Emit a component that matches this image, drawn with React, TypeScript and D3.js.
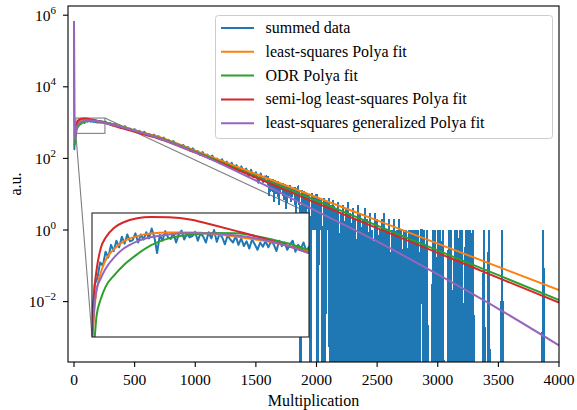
import { useEffect, useRef } from 'react';
import * as d3 from 'd3';

const W = 577;
const H = 410;
const margin = { top: 6, right: 18, bottom: 48, left: 68 };

// axis limits and ticks
const xLimits = [-49.5, 4000];
const yLimits = [10 ** -3.687, 10 ** 6.257];
const xTicks = [0, 500, 1000, 1500, 2000, 2500, 3000, 3500, 4000];
const yTickExponents = [-2, 0, 2, 4, 6];

// zoomed region shown in the inset
const insetXLimits = [15, 255];
const insetYLimits = [500, 1340];

// summed data (counts), three stretches with their own bin spacing
const lowStart = 0, lowStep = 3;
const countsLow = [
    680000, 180, 390, 520, 610, 590, 760, 800, 905, 880,
    985, 940, 1040, 990, 1075, 1020, 1110, 1050, 1130, 1070,
    1080, 1140, 1060, 1130, 1085, 1150, 1095, 1185, 1105, 975,
    1125, 1075, 1160, 1105, 1090, 1145, 1060, 1130, 1165, 1085,
    1135, 1105, 1115, 1155, 1075, 1140, 1110, 1060, 1150, 1095,
    1170, 1065, 1135, 1105, 1045, 1120, 1085, 1060, 1115, 1040,
    1095, 1030, 1070, 1010, 1085, 1045, 1000, 1060, 1025, 1070,
    1020, 1070, 1045, 990, 1075, 1030, 1060, 1000, 1045, 1075,
    985, 1040, 1010, 1060, 990, 1025,
];
const midStart = 260, midStep = 20;
const countsMid = [
    1060, 922, 962, 837, 920, 805, 824, 713, 794, 665,
    683, 602, 653, 562, 588, 492, 553, 466, 484, 419,
    462, 398, 414, 341, 381, 313, 330, 272, 304, 249,
    254, 210, 237, 195, 207, 162, 190, 152, 161, 124,
    150, 118, 128, 96, 120, 91, 99, 74, 95, 70,
    81, 56, 76, 54, 65, 42, 60, 41, 52, 31,
    48, 30, 41, 21, 38, 22, 33,
];
const tailStart = 1600, tailStep = 10;
const countsTail = [
    30, 9, 27, 12, 26, 6, 25, 10, 24, 5,
    21, 13, 20, 7, 19, 4, 17, 9, 18, 6,
    15, 11, 16, 3, 14, 16, 5, 0, 13, 3,
    12, 2, 11, 4, 10, 0, 11, 1, 9, 1,
    10, 0, 8, 1, 7, 0, 8, 0, 7, 1,
    8, 0, 5, 0, 7, 0, 4, 0, 6, 0,
    3, 0, 5, 0, 4, 0, 6, 0, 3, 0,
    4, 0, 2, 0, 5, 0, 3, 0, 2, 0,
    4, 0, 2, 0, 3, 0, 1, 0, 3, 0,
    2, 0, 1, 0, 2, 0, 3, 0, 1, 0,
    2, 0, 1, 0, 2, 0, 1, 0, 2, 0,
    1, 0, 1, 0, 1, 0, 1, 0, 1, 0,
    1, 0, 1, 0, 1, 0, 1, 1, 0, 1,
    0, 1, 0, 0, 0, 0, 1, 0, 1, 0,
    1, 0, 1, 0, 1, 0, 0, 0, 0, 1,
    0, 1, 0, 0, 1, 0, 1, 0, 1, 0,
    1, 0, 0, 1, 0, 1, 0, 1, 0, 1,
    0, 0, 0, 0, 0, 0, 0, 0, 1, 0,
    0, 0, 1, 0, 0, 0, 0, 0, 0, 0,
    0, 0, 0, 1, 0, 0, 0, 0, 0, 0,
    0, 0, 0, 0, 0, 0, 0, 0, 0, 0,
    0, 0, 0, 0, 0, 0, 0, 0, 0, 0,
    0, 0, 0, 0, 0, 0, 0, 1, 0, 0,
    0, 0, 0, 0, 0, 0, 0, 0, 0, 0,
    0,
];

// fitted curves, read at these multiplications
const fitX = [5, 15, 18, 20, 25, 30, 40, 50, 65, 80, 100, 125, 150, 175, 200, 230, 255, 300, 400, 500, 600, 700, 1000, 1500, 2000, 2500, 3000, 3500, 4000];
const lsqFit = [350, 470, 640, 720, 840, 920, 1010, 1070, 1115, 1138, 1148, 1148, 1135, 1110, 1080, 1035, 988, 923, 767, 610, 490, 398, 163, 36.6, 8.22, 1.85, 0.416, 0.0936, 0.0211];
const odrFit = [230, 420, 500, 590, 680, 745, 820, 885, 965, 1035, 1095, 1128, 1143, 1140, 1110, 1055, 999, 933, 760, 596, 473, 380, 155, 31.6, 6.61, 1.33, 0.269, 0.055, 0.0111];
const semiLogFit = [420, 520, 750, 850, 1020, 1100, 1195, 1245, 1285, 1298, 1295, 1270, 1215, 1160, 1105, 1035, 975, 871, 692, 550, 442, 355, 145, 29.2, 5.62, 1.13, 0.229, 0.0462, 0.00933];
const genX = [0, ...fitX];
const genFit = [680000, 330, 500, 660, 730, 800, 860, 945, 1010, 1070, 1105, 1130, 1143, 1138, 1120, 1090, 1035, 975, 902, 741, 589, 468, 367, 148, 24, 3.39, 0.479, 0.0575, 0.0063, 0.0006];

const seriesNames = ['summed data', 'least-squares Polya fit', 'ODR Polya fit', 'semi-log least-squares Polya fit', 'least-squares generalized Polya fit'];
const colors = ['#1f77b4', '#ff7f0e', '#2ca02c', '#d62728', '#9467bd'];

type Pt = { x: number; v: number };

const FONT = "'Liberation Serif', 'Times New Roman', serif";

export default function App() {
    const ref = useRef<SVGSVGElement | null>(null);

    useEffect(() => {
        if (!ref.current) return;
        const svg = d3.select(ref.current);
        svg.selectAll('*').remove();

        const left = margin.left, right = W - margin.right;
        const top = margin.top, bottom = H - margin.bottom;

        const x = d3.scaleLinear().domain(xLimits).range([left, right]);
        const y = d3.scaleLog().domain(yLimits).range([bottom, top]);

        const head: Pt[] = [
            ...countsLow.map((v, i) => ({ x: lowStart + i * lowStep, v })),
            ...countsMid.map((v, i) => ({ x: midStart + i * midStep, v })),
        ];
        // the dense, zero-ridden tail is drawn on its own, starting from the last point of the head
        const tail: Pt[] = [
            head[head.length - 1],
            ...countsTail.map((v, i) => ({ x: tailStart + i * tailStep, v })),
        ];
        const fits: Pt[][] = [
            fitX.map((fx, i) => ({ x: fx, v: lsqFit[i] })),
            fitX.map((fx, i) => ({ x: fx, v: odrFit[i] })),
            fitX.map((fx, i) => ({ x: fx, v: semiLogFit[i] })),
            genX.map((fx, i) => ({ x: fx, v: genFit[i] })),
        ];

        const defs = svg.append('defs');
        defs.append('clipPath').attr('id', 'mainClip')
            .append('rect').attr('x', left).attr('y', top).attr('width', right - left).attr('height', bottom - top);

        // inset placement
        const ix0 = 92, ix1 = 309, iy0 = 213, iy1 = 337;
        defs.append('clipPath').attr('id', 'insetClip')
            .append('rect').attr('x', ix0).attr('y', iy0).attr('width', ix1 - ix0).attr('height', iy1 - iy0);

        svg.append('rect').attr('width', W).attr('height', H).attr('fill', '#fff');

        // zoom marker and connectors
        const rx0 = x(insetXLimits[0]), rx1 = x(insetXLimits[1]);
        const ry0 = y(insetYLimits[1]), ry1 = y(insetYLimits[0]);
        const mark = svg.append('g').attr('clip-path', 'url(#mainClip)').attr('stroke', '#7f7f7f').attr('stroke-width', 1.1).attr('fill', 'none');
        mark.append('rect').attr('x', rx0).attr('y', ry0).attr('width', rx1 - rx0).attr('height', ry1 - ry0);
        mark.append('line').attr('x1', rx0).attr('y1', ry1).attr('x2', ix0).attr('y2', iy1);
        mark.append('line').attr('x1', rx1).attr('y1', ry0).attr('x2', ix1).attr('y2', iy0);

        const drawSeries = (g: d3.Selection<SVGGElement, unknown, null, undefined>, sx: d3.ScaleLinear<number, number>, sy: d3.ScaleLogarithmic<number, number>, low: number) => {
            const dataLine = d3.line<Pt>()
                .x(d => sx(d.x))
                .y(d => (d.v > 0 ? sy(d.v) : low + 40));
            g.append('path').datum(head).attr('d', dataLine)
                .attr('fill', 'none').attr('stroke', colors[0]).attr('stroke-width', 2).attr('stroke-linejoin', 'round');
            g.append('path').datum(tail).attr('d', dataLine)
                .attr('fill', 'none').attr('stroke', colors[0]).attr('stroke-width', 2).attr('shape-rendering', 'crispEdges');
            const fitLine = d3.line<Pt>().x(d => sx(d.x)).y(d => sy(d.v)).curve(d3.curveMonotoneX);
            fits.forEach((f, i) => {
                g.append('path').datum(f).attr('d', fitLine)
                    .attr('fill', 'none').attr('stroke', colors[i + 1]).attr('stroke-width', 2);
            });
        };

        const plot = svg.append('g').attr('clip-path', 'url(#mainClip)');
        drawSeries(plot, x, y, bottom);

        // spines
        svg.append('rect').attr('x', left).attr('y', top).attr('width', right - left).attr('height', bottom - top)
            .attr('fill', 'none').attr('stroke', '#000').attr('stroke-width', 1.1);

        // x ticks
        const xa = svg.append('g').attr('font-family', FONT).attr('font-size', 15.5).attr('text-anchor', 'middle');
        xTicks.forEach(t => {
            xa.append('line').attr('x1', x(t)).attr('x2', x(t)).attr('y1', bottom).attr('y2', bottom + 5).attr('stroke', '#000').attr('stroke-width', 1.1);
            xa.append('text').attr('x', x(t)).attr('y', bottom + 22.5).text(String(t));
        });

        // y ticks
        const ya = svg.append('g').attr('font-family', FONT).attr('font-size', 15.5).attr('text-anchor', 'end');
        yTickExponents.forEach(e => {
            const ty = y(10 ** e);
            ya.append('line').attr('x1', left - 5).attr('x2', left).attr('y1', ty).attr('y2', ty).attr('stroke', '#000').attr('stroke-width', 1.1);
            const t = ya.append('text').attr('x', left - 12).attr('y', ty + 5.5);
            t.append('tspan').text('10');
            t.append('tspan').attr('dy', -7).attr('font-size', 11).text(e < 0 ? `\u2212${-e}` : String(e));
        });

        svg.append('text').attr('x', (left + right) / 2).attr('y', 405.5).attr('text-anchor', 'middle')
            .attr('font-family', FONT).attr('font-size', 16).text('Multiplication');
        svg.append('text').attr('transform', `translate(21,${(top + bottom) / 2}) rotate(-90)`).attr('text-anchor', 'middle')
            .attr('font-family', FONT).attr('font-size', 16).text('a.u.');

        // legend
        const lg = svg.append('g');
        lg.append('rect').attr('x', 215.5).attr('y', 15.5).attr('width', 337).attr('height', 123).attr('rx', 3)
            .attr('fill', '#fff').attr('fill-opacity', 0.8).attr('stroke', '#cccccc').attr('stroke-width', 1);
        seriesNames.forEach((name, i) => {
            const cy = 28 + i * 23.8;
            lg.append('line').attr('x1', 221).attr('x2', 254).attr('y1', cy).attr('y2', cy).attr('stroke', colors[i]).attr('stroke-width', 2);
            lg.append('text').attr('x', 265.5).attr('y', cy + 5).attr('font-family', FONT).attr('font-size', 16).attr('fill', '#000').text(name);
        });

        // inset axes
        const ixs = d3.scaleLinear().domain(insetXLimits).range([ix0, ix1]);
        const iys = d3.scaleLog().domain(insetYLimits).range([iy1, iy0]);
        svg.append('rect').attr('x', ix0).attr('y', iy0).attr('width', ix1 - ix0).attr('height', iy1 - iy0).attr('fill', '#fff');
        const inset = svg.append('g').attr('clip-path', 'url(#insetClip)');
        drawSeries(inset, ixs, iys, iy1);
        svg.append('rect').attr('x', ix0).attr('y', iy0).attr('width', ix1 - ix0).attr('height', iy1 - iy0)
            .attr('fill', 'none').attr('stroke', '#222').attr('stroke-width', 1.1);
    }, []);

    return <svg ref={ref} width={W} height={H} style={{ position: 'absolute', left: 0, top: 0 }} />;
}
